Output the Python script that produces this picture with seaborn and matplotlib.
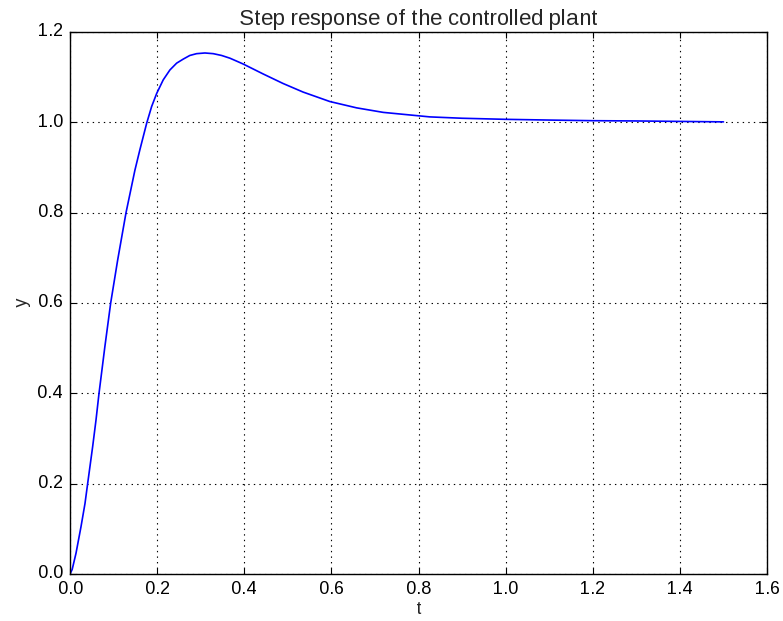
import matplotlib
matplotlib.use("Agg")
import matplotlib.pyplot as plt
import seaborn as sns
import pandas as pd

# Step response samples (time in s, output y)
t_vals = [0.000, 0.005, 0.0138, 0.0253, 0.0344, 0.0405, 0.052, 0.0597, 0.0666,
          0.080, 0.0934, 0.1094, 0.1286, 0.149, 0.1606, 0.176, 0.1874, 0.199,
          0.214, 0.2294, 0.2448, 0.260, 0.275, 0.2906, 0.3097, 0.3288, 0.348,
          0.367, 0.386, 0.3977, 0.4435, 0.489, 0.535, 0.5965, 0.658, 0.719,
          0.7725, 0.826, 0.900, 1.000, 1.100, 1.200, 1.300, 1.400, 1.500]
y_vals = [0.000, 0.010, 0.046, 0.105, 0.156, 0.200, 0.282, 0.341, 0.400,
          0.503, 0.600, 0.695, 0.800, 0.894, 0.940, 0.998, 1.035, 1.064,
          1.094, 1.116, 1.131, 1.140, 1.148, 1.152, 1.1535, 1.152, 1.148,
          1.142, 1.134, 1.129, 1.107, 1.086, 1.067, 1.046, 1.032, 1.022,
          1.017, 1.012, 1.009, 1.0066, 1.005, 1.0036, 1.003, 1.002, 1.001]

x_ticks = [0.0, 0.2, 0.4, 0.6, 0.8, 1.0, 1.2, 1.4, 1.6]
y_ticks = [0.0, 0.2, 0.4, 0.6, 0.8, 1.0, 1.2]

plt.style.use("classic")
sns.set_style("ticks", {"xtick.direction": "in", "ytick.direction": "in"})
plt.rcParams["font.family"] = ["Liberation Sans", "DejaVu Sans"]
plt.rcParams["text.hinting"] = "auto"
plt.rcParams["text.hinting_factor"] = 1

df = pd.DataFrame({"t": t_vals, "y": y_vals})

fig = plt.figure(figsize=(7.83, 6.21), dpi=100, facecolor="white")
ax = fig.add_axes([0.0894, 0.0757, 0.8902, 0.8728])
ax.set_facecolor("white")

sns.lineplot(data=df, x="t", y="y", color="blue", linewidth=1.2, ax=ax)

ax.set_xlim(0, 1.6)
ax.set_ylim(0, 1.2)
ax.set_xticks(x_ticks)
ax.set_yticks(y_ticks)
ax.set_xticklabels([f"{v:.1f}" for v in x_ticks], fontsize=13)
ax.set_yticklabels([f"{v:.1f}" for v in y_ticks], fontsize=13)
ax.tick_params(direction="in", length=4, width=0.8, top=True, right=True,
               colors="black", pad=5)
ax.grid(True, color="black", linestyle=":", linewidth=0.8)
for s in ax.spines.values():
    s.set_color("black")
    s.set_linewidth(1.0)

ax.set_xlabel("t", fontsize=13, labelpad=2)
ax.set_ylabel("y", fontsize=13)
ax.set_title("Step response of the controlled plant", fontsize=16, pad=5)

fig.savefig("out.png", dpi=100, facecolor="white")
